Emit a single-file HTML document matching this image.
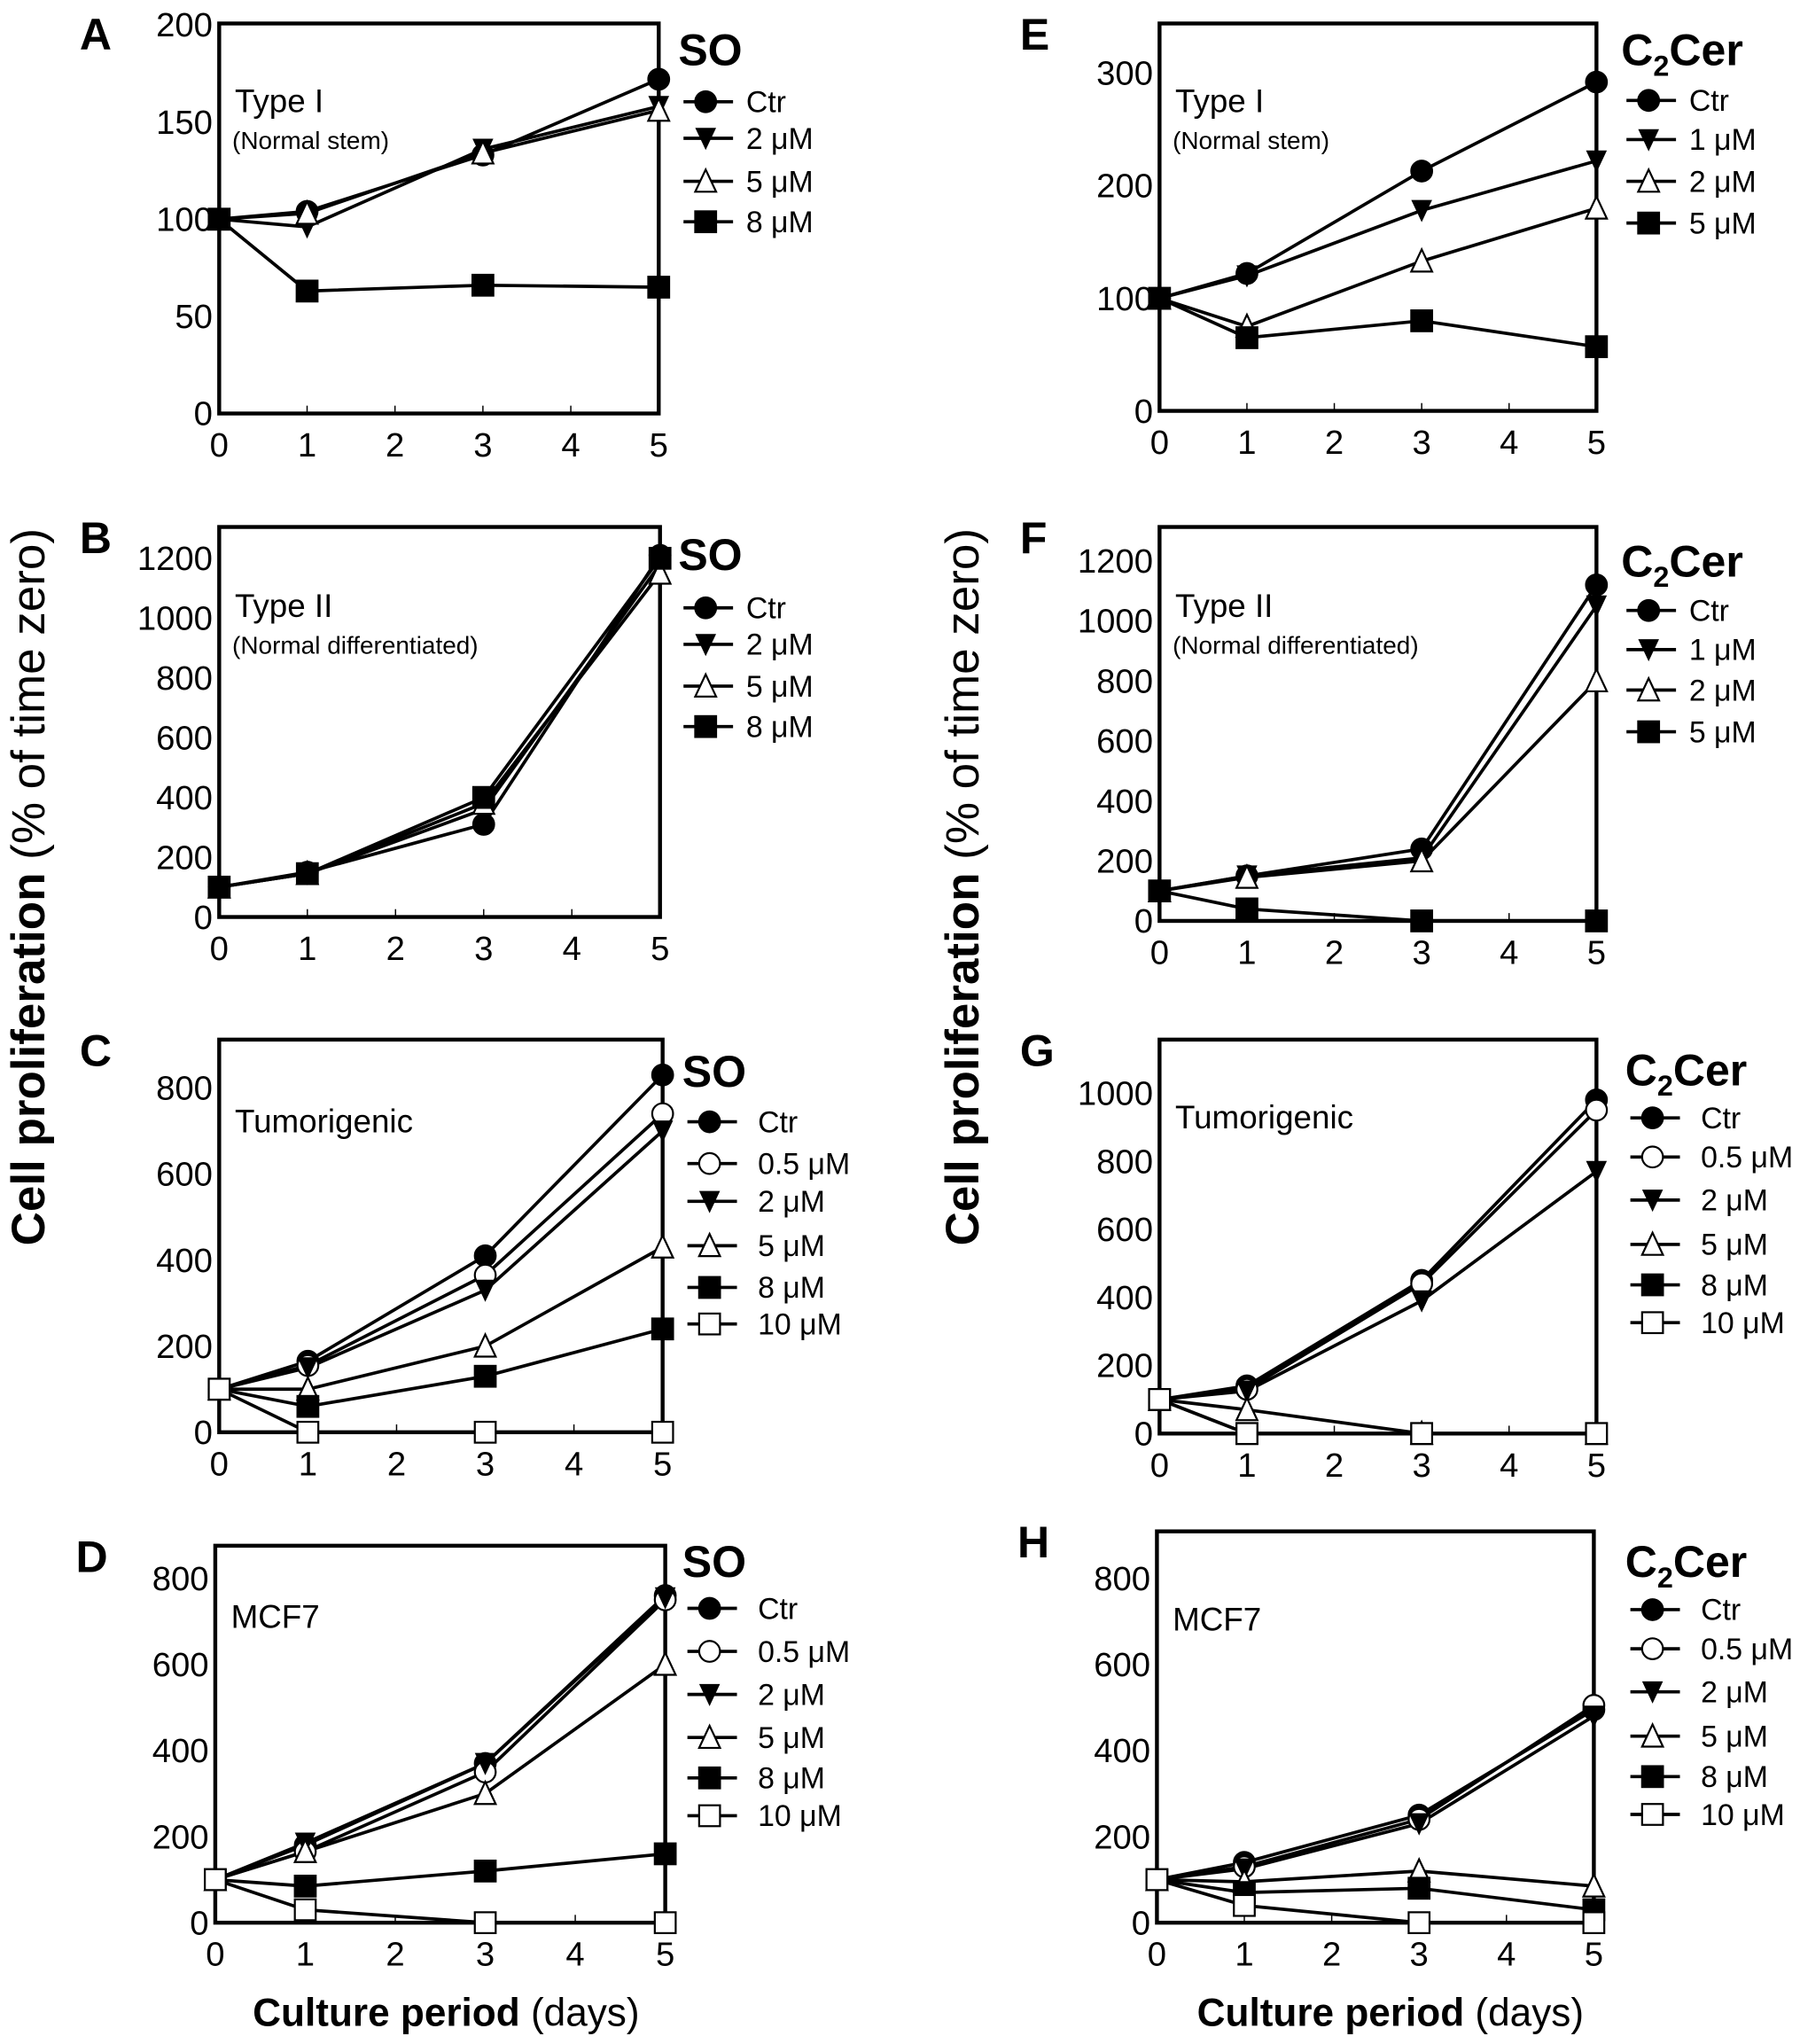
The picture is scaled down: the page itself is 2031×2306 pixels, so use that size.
<!DOCTYPE html>
<html><head><meta charset="utf-8"><style>
html,body{margin:0;padding:0;background:#fff;}
svg{display:block;font-family:"Liberation Sans",sans-serif;}
</style></head><body>
<svg id="fig" width="2031" height="2306" viewBox="0 0 1380 1567" xmlns="http://www.w3.org/2000/svg">
<text transform="translate(34,680) rotate(-90)" text-anchor="middle" font-size="36"><tspan font-weight="bold">Cell proliferation</tspan> (% of time zero)</text>
<text transform="translate(750,680) rotate(-90)" text-anchor="middle" font-size="36"><tspan font-weight="bold">Cell proliferation</tspan> (% of time zero)</text>
<text x="342" y="1553" text-anchor="middle" font-size="30"><tspan font-weight="bold">Culture period</tspan> (days)</text>
<text x="1066" y="1553" text-anchor="middle" font-size="30"><tspan font-weight="bold">Culture period</tspan> (days)</text>
</svg>
<script>
const days = [0, 1, 3, 5];
const xTickLabels = [0, 1, 2, 3, 4, 5];
// panel A
const aLabels = ["Ctr", "2 μM", "5 μM", "8 μM"];
const aCtr = [100, 104, 133, 172];
const a2 = [100, 96, 136, 158];
const a5 = [100, 103, 134, 156];
const a8 = [100, 63, 66, 65];
const aTicks = [0, 50, 100, 150, 200];
// panel B
const bLabels = ["Ctr", "2 μM", "5 μM", "8 μM"];
const bCtr = [100, 150, 310, 1210];
const b2 = [100, 145, 360, 1180];
const b5 = [100, 145, 380, 1150];
const b8 = [100, 145, 400, 1200];
const bTicks = [0, 200, 400, 600, 800, 1000, 1200];
// panel C
const cLabels = ["Ctr", "0.5 μM", "2 μM", "5 μM", "8 μM", "10 μM"];
const cCtr = [100, 165, 410, 830];
const c05 = [100, 155, 365, 740];
const c2 = [100, 150, 330, 700];
const c5 = [100, 100, 200, 430];
const c8 = [100, 60, 130, 240];
const c10 = [100, 0, 0, 0];
const cTicks = [0, 200, 400, 600, 800];
// panel D
const dLabels = ["Ctr", "0.5 μM", "2 μM", "5 μM", "8 μM", "10 μM"];
const dCtr = [100, 180, 370, 760];
const d05 = [100, 165, 350, 750];
const d2 = [100, 185, 370, 755];
const d5 = [100, 165, 300, 600];
const d8 = [100, 85, 120, 160];
const d10 = [100, 30, 0, 0];
const dTicks = [0, 200, 400, 600, 800];
// panel E
const eLabels = ["Ctr", "1 μM", "2 μM", "5 μM"];
const eCtr = [100, 122, 213, 292];
const e1 = [100, 120, 178, 222];
const e2 = [100, 75, 133, 180];
const e5 = [100, 65, 80, 57];
const eTicks = [0, 100, 200, 300];
// panel F
const fLabels = ["Ctr", "1 μM", "2 μM", "5 μM"];
const fCtr = [100, 150, 240, 1120];
const f1 = [100, 150, 210, 1050];
const f2 = [100, 145, 200, 800];
const f5 = [100, 40, 0, 0];
const fTicks = [0, 200, 400, 600, 800, 1000, 1200];
// panel G
const gLabels = ["Ctr", "0.5 μM", "2 μM", "5 μM", "8 μM", "10 μM"];
const gCtr = [100, 140, 450, 980];
const g05 = [100, 130, 440, 950];
const g2 = [100, 125, 390, 770];
const g5 = [100, 70, 0, 0];
const g8 = [100, 0, 0, 0];
const g10 = [100, 0, 0, 0];
const gTicks = [0, 200, 400, 600, 800, 1000];
// panel H
const hLabels = ["Ctr", "0.5 μM", "2 μM", "5 μM", "8 μM", "10 μM"];
const hCtr = [100, 140, 250, 495];
const h05 = [100, 130, 240, 505];
const h2 = [100, 125, 230, 480];
const h5 = [100, 95, 120, 85];
const h8 = [100, 70, 80, 30];
const h10 = [100, 40, 0, 0];
const hTicks = [0, 200, 400, 600, 800];

const NS = "http://www.w3.org/2000/svg";
const svg = document.getElementById("fig");
function mk(tag, attrs, parent) {
  const e = document.createElementNS(NS, tag);
  for (const k in attrs) e.setAttribute(k, attrs[k]);
  (parent || svg).appendChild(e);
  return e;
}
function marker(g, kind, x, y) {
  const s = 8;
  let e;
  if (kind === "fcircle" || kind === "ocircle") {
    e = mk("circle", {cx: x, cy: y, r: s, fill: kind === "fcircle" ? "#000" : "#fff", stroke: "#000", "stroke-width": 1.5}, g);
  } else if (kind === "fdown") {
    e = mk("polygon", {points: `${x-s},${y-s} ${x+s},${y-s} ${x},${y+s+1}`, fill: "#000"}, g);
  } else if (kind === "oup") {
    e = mk("polygon", {points: `${x-s},${y+s} ${x+s},${y+s} ${x},${y-s-1}`, fill: "#fff", stroke: "#000", "stroke-width": 1.5}, g);
  } else {
    e = mk("rect", {x: x-s, y: y-s, width: 2*s, height: 2*s, fill: kind === "fsquare" ? "#000" : "#fff", stroke: "#000", "stroke-width": 1.5}, g);
  }
  return e;
}
function panel(p) {
  const g = mk("g", {});
  
  
  const xS = d => p.x0 + (p.x5 - p.x0) * d / 5;
  const yS = v => p.y0 - (p.y0 - p.yTop) * v / p.vTop;
  const L = mk("text", {x: p.x0 - 107, y: p.boxTop + 20, "font-size": 34, "font-weight": "bold"}, g);
  L.textContent = p.letter;
  
  
  const fr = mk("rect", {x: p.x0, y: p.boxTop, width: p.x5 - p.x0, height: p.y0 - p.boxTop, fill: "none", stroke: "#000", "stroke-width": 3}, g);
  
  
  p.ticks.forEach(t => {
    const tx = mk("text", {x: p.x0 - 5, y: yS(t) + 9, "text-anchor": "end", "font-size": 26}, g);
    tx.textContent = t;
    
    
  });
  xTickLabels.forEach(t => {
    const tx = mk("text", {x: xS(t), y: p.y0 + 33, "text-anchor": "middle", "font-size": 26}, g);
    tx.textContent = t;
    
    
    mk("line", {x1: xS(t), x2: xS(t), y1: p.y0, y2: p.y0 - 6, stroke: "#000", "stroke-width": 1}, g);
  });
  const ct = mk("text", {x: p.x0 + 12, y: p.labelY, "font-size": 25}, g);
  ct.textContent = p.cell;
  
  
  if (p.sub) {
    const st = mk("text", {x: p.x0 + 10, y: p.labelY + 28, "font-size": 19}, g);
    st.textContent = p.sub;
    
    
  }
  p.series.forEach((vals, i) => {
    const pts = days.map((d, j) => `${xS(d)},${yS(vals[j])}`).join(" ");
    const ln = mk("polyline", {points: pts, fill: "none", stroke: "#000", "stroke-width": 2.5}, g);
    
    
  });
  p.series.forEach((vals, i) => {
    days.forEach((d, j) => {
      const m = marker(g, p.kinds[i], xS(d), yS(vals[j]));
      
      
    });
  });
  const lt = mk("text", {x: p.legX - 4, y: p.legTitleY, "font-size": 34, "font-weight": "bold"}, g);
  if (p.cer) {
    lt.appendChild(document.createTextNode("C"));
    const sub = mk("tspan", {"font-size": 22, dy: 8}, lt);
    sub.textContent = "2";
    const rest = mk("tspan", {dy: -8}, lt);
    rest.textContent = "Cer";
  } else lt.textContent = "SO";
  
  
  p.labels.forEach((lab, i) => {
    const y = p.legY[i];
    const le = mk("g", {}, g);
    
    
    mk("line", {x1: p.legX, x2: p.legX + 38, y1: y, y2: y, stroke: "#000", "stroke-width": 2.5}, le);
    marker(le, p.kinds[i], p.legX + 17, y);
    const t = mk("text", {x: p.legX + (p.labels.length > 4 ? 54 : 48), y: y + 8, "font-size": 23}, le);
    t.textContent = lab;
  });
}
const K4 = ["fcircle", "fdown", "oup", "fsquare"];
const K6 = ["fcircle", "ocircle", "fdown", "oup", "fsquare", "osquare"];
panel({letter: "A", x0: 168, x5: 505, boxTop: 18, y0: 317, yTop: 19, vTop: 200, ticks: aTicks, cell: "Type I", sub: "(Normal stem)", labelY: 86,
  series: [aCtr, a2, a5, a8], kinds: K4, labels: aLabels, legX: 524, legTitleY: 50, legY: [78, 106, 139, 170]});
panel({letter: "B", x0: 168, x5: 506, boxTop: 404, y0: 703, yTop: 428, vTop: 1200, ticks: bTicks, cell: "Type II", sub: "(Normal differentiated)", labelY: 473,
  series: [bCtr, b2, b5, b8], kinds: K4, labels: bLabels, legX: 524, legTitleY: 437, legY: [466, 494, 526, 557]});
panel({letter: "C", x0: 168, x5: 508, boxTop: 797, y0: 1098, yTop: 834, vTop: 800, ticks: cTicks, cell: "Tumorigenic", labelY: 868,
  series: [cCtr, c05, c2, c5, c8, c10], kinds: K6, labels: cLabels, legX: 527, legTitleY: 833, legY: [860, 892, 921, 955, 987, 1015]});
panel({letter: "D", x0: 165, x5: 510, boxTop: 1185, y0: 1474, yTop: 1210, vTop: 800, ticks: dTicks, cell: "MCF7", labelY: 1248,
  series: [dCtr, d05, d2, d5, d8, d10], kinds: K6, labels: dLabels, legX: 527, legTitleY: 1209, legY: [1233, 1266, 1299, 1332, 1363, 1392]});
panel({letter: "E", x0: 889, x5: 1224, boxTop: 18, y0: 315, yTop: 56, vTop: 300, ticks: eTicks, cell: "Type I", sub: "(Normal stem)", labelY: 86, cer: true,
  series: [eCtr, e1, e2, e5], kinds: K4, labels: eLabels, legX: 1247, legTitleY: 50, legY: [77, 107, 139, 171]});
panel({letter: "F", x0: 889, x5: 1224, boxTop: 404, y0: 706, yTop: 430, vTop: 1200, ticks: fTicks, cell: "Type II", sub: "(Normal differentiated)", labelY: 473, cer: true,
  series: [fCtr, f1, f2, f5], kinds: K4, labels: fLabels, legX: 1247, legTitleY: 442, legY: [468, 498, 529, 561]});
panel({letter: "G", x0: 889, x5: 1224, boxTop: 797, y0: 1099, yTop: 838, vTop: 1000, ticks: gTicks, cell: "Tumorigenic", labelY: 865, cer: true,
  series: [gCtr, g05, g2, g5, g8, g10], kinds: K6, labels: gLabels, legX: 1250, legTitleY: 832, legY: [857, 887, 920, 954, 985, 1014]});
panel({letter: "H", x0: 887, x5: 1222, boxTop: 1174, y0: 1474, yTop: 1210, vTop: 800, ticks: hTicks, cell: "MCF7", labelY: 1250, cer: true,
  series: [hCtr, h05, h2, h5, h8, h10], kinds: K6, labels: hLabels, legX: 1250, legTitleY: 1209, legY: [1234, 1264, 1297, 1331, 1362, 1391]});
</script>
</body></html>
